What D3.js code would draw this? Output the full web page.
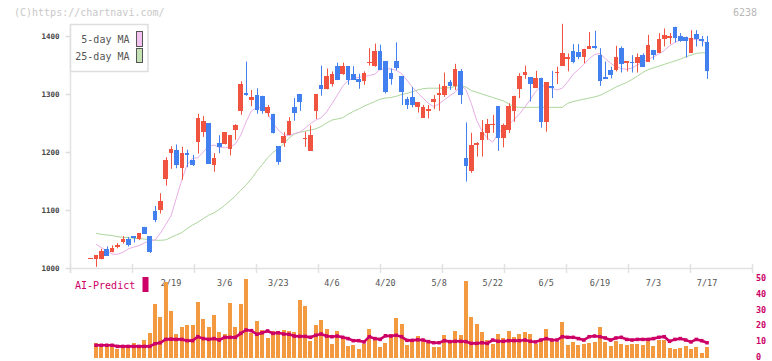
<!DOCTYPE html>
<html>
<head>
<meta charset="utf-8">
<script src="https://cdn.jsdelivr.net/npm/d3@7"></script>
<style>
  body { margin: 0; background: #fff; }
  svg text { font-family: "DejaVu Sans Mono", "Liberation Mono", monospace; }
</style>
</head>
<body>
<svg id="chart" width="772" height="361"></svg>
<script>
// daily candles; first slot is a flat day with no volume
var open = [1017,
  1015,1016,1032,1028,1037,1044,1050,1055,1050,1071,
  1055,1098,1100,1154,1199,1203,1173,1198,1186,1218,
  1235,1250,1178,1216,1214,1205,1238,1270,1302,1289,
  1298,1297,1268,1266,1210,1216,1230,1278,1300,1222,
  1202,1271,1316,1309,1317,1349,1335,1348,1335,1326,
  1323,1353,1348,1374,1357,1337,1357,1331,1292,1295,
  1278,1259,1270,1287,1299,1298,1320,1313,1340,1189,
  1167,1212,1220,1233,1247,1279,1225,1238,1271,1309,
  1333,1329,1310,1328,1252,1314,1336,1349,1361,1374,
  1372,1363,1378,1383,1367,1329,1341,1341,1380,1353,
  1356,1353,1367,1356,1376,1371,1394,1397,1416,1400,
  1399,1371,1403,1395,1390];
var high = [1017,
  1022,1033,1037,1039,1043,1055,1053,1055,1060,1071,
  1055,1107,1129,1191,1210,1213,1209,1204,1195,1266,
  1262,1250,1198,1229,1234,1229,1248,1322,1356,1307,
  1310,1297,1281,1266,1210,1234,1260,1293,1300,1235,
  1246,1300,1349,1344,1339,1354,1354,1348,1348,1335,
  1339,1379,1387,1385,1357,1344,1389,1331,1295,1312,
  1286,1281,1281,1298,1317,1337,1324,1352,1343,1251,
  1233,1217,1255,1257,1264,1279,1249,1284,1297,1336,
  1349,1329,1340,1328,1320,1340,1347,1421,1370,1386,
  1386,1378,1407,1409,1379,1356,1347,1383,1382,1357,
  1367,1370,1370,1402,1376,1405,1413,1405,1416,1405,
  1399,1410,1410,1400,1400];
var low = [1017,
  1002,1015,1021,1027,1034,1042,1037,1044,1048,1059,
  1026,1079,1094,1142,1171,1172,1152,1174,1176,1197,
  1226,1180,1166,1198,1213,1194,1221,1264,1297,1279,
  1266,1266,1261,1232,1178,1209,1230,1254,1271,1209,
  1202,1257,1297,1308,1313,1324,1333,1316,1324,1309,
  1316,1349,1347,1341,1301,1316,1341,1281,1274,1277,
  1268,1259,1258,1274,1271,1295,1307,1307,1283,1149,
  1164,1192,1192,1221,1233,1202,1208,1233,1252,1293,
  1326,1287,1310,1242,1235,1293,1317,1349,1339,1353,
  1360,1353,1378,1377,1314,1326,1327,1339,1337,1339,
  1337,1337,1347,1356,1359,1371,1382,1386,1389,1390,
  1363,1371,1382,1382,1326];
var close = [1017,
  1022,1030,1021,1034,1039,1050,1040,1051,1060,1059,
  1028,1083,1116,1187,1206,1178,1198,1194,1178,1259,
  1253,1180,1190,1208,1234,1229,1246,1318,1299,1294,
  1272,1271,1277,1232,1182,1228,1253,1268,1287,1225,
  1230,1300,1309,1331,1335,1324,1348,1324,1324,1321,
  1337,1355,1374,1341,1303,1326,1344,1304,1281,1281,
  1286,1277,1275,1291,1301,1314,1313,1343,1298,1176,
  1212,1216,1235,1248,1248,1225,1246,1279,1297,1331,
  1338,1318,1328,1252,1320,1311,1338,1371,1363,1355,
  1363,1378,1382,1380,1323,1326,1333,1364,1352,1357,
  1353,1364,1347,1385,1367,1395,1402,1400,1397,1392,
  1392,1396,1395,1392,1339];

var ma5 = [null,
  1041,1035,1030,1024,1023.6,1027,1033,1036,1038.5,1043,
  1047.5,1048,1060,1075,1090,1121,1152,1178,1189,1190,
  1200,1210,1212,1208,1208,1208,1214,1229,1252,1271,
  1277,1276,1267,1250,1238,1230,1228,1232,1234,1241,
  1249,1255,1259,1269,1283,1298,1313,1323,1327,1328.5,
  1330,1332,1334,1342.5,1344,1343,1341,1335,1324,1312,
  1302,1293,1284,1278,1283,1290,1297,1303,1315,1308,
  1284,1255,1236,1224,1217,1232,1241,1247,1256,1266,
  1277,1290,1304,1313,1315,1310,1307,1310,1321,1334,
  1342,1351,1361,1368,1370,1361,1353,1347,1344,1342.5,
  1345,1350,1355,1360,1364,1369,1375,1383,1389,1393,
  1395.5,1395,1394,1392,1386];
var ma25 = [null,
  1060,1058,1057,1056,1054,1053,1052.5,1051,1050.5,1050,
  1048.5,1048,1047.7,1048.5,1053,1057,1061,1068,1074,1079,
  1085,1091,1095,1101,1108,1116,1124,1134,1143,1154,
  1167,1178,1190,1199,1206,1214,1224,1231,1234,1236,
  1238,1240,1244,1250,1255,1257,1259,1265,1270,1274,
  1279,1283,1287,1291,1293,1294,1296,1299,1301,1304,
  1307,1309,1310,1310,1310,1310,1311,1313,1315,1312,
  1306,1303,1300,1297,1294,1291,1288,1283,1278,1277,
  1277,1277,1277,1277,1277,1277,1277,1277,1284,1287,
  1289,1291,1293,1295,1297.5,1302,1307,1312,1316,1320,
  1325,1331,1337,1342,1345,1348,1351,1354,1357,1360,
  1364,1367,1370,1371,1371];

var volume = [null,
  9.4,8.1,8.1,8.1,5.9,7.6,7.6,9.4,8.1,11.3,
  15.7,34.1,26,47.8,29.8,15.2,19.7,20.5,21,35.3,
  24.6,19.2,27.2,16.2,15.4,34.8,19.7,34.1,49.9,15.5,
  23.3,17.6,12.8,16.8,16.8,17.6,16.8,16.4,36.5,32.8,
  11,21,23.9,18.3,8.8,16.8,13,7.7,8.1,5.7,
  8.6,18.2,13.4,7,9.2,15,25.3,21.4,8,12.2,
  13.7,9.8,9.2,6.9,6.9,14.4,9.8,17,14.5,48.4,
  25.8,21.4,16.4,11.3,8.8,15,12.8,17,13.2,15,
  16.2,15.1,9,11.5,18.2,10.5,10.3,22.6,7.9,10.1,
  7.9,8.8,9.6,10.1,19.6,10.1,7.5,10.5,8.8,8.2,
  8.8,8.8,8.2,11.1,7.5,11.3,11.3,6.3,5.7,6.3,
  7.5,5.7,6.7,3.1,6.9];
var aiPredict = [null,
  8,8,8,8,7.3,7.3,7.3,7.3,7.3,7.3,
  7.3,9,9.6,11.7,11.9,11.7,11.7,10.9,10.9,13.4,
  12.2,11.7,12.2,11.3,13,13,13,15.5,17.6,17.2,
  14.9,15.9,17,15.5,15.9,15.1,14.9,13.8,13.6,13.6,
  13,14.3,15.1,13.8,13.4,13.8,13,12.2,10.9,10.9,
  10.1,13.4,12.2,11.7,14,13.8,14.3,13.4,11.1,11.1,
  11.5,11.3,10.3,9.6,9.6,10.9,10.3,10.5,10.5,10.3,
  9.2,9.2,9.6,9.2,11.3,10.5,10.5,10.9,10.9,10.9,
  11.3,10.5,10.1,11.3,12.2,11.3,11.3,13.4,13,13,
  12.2,11.3,13.4,13.8,13.4,12.6,11.3,12.6,13,11.7,
  11.3,11.7,11.7,11.7,12.2,13,13.4,10.5,11.7,12.2,
  11.3,10.1,11.7,10.9,9.6];

var tickLabels = ["2/19", "3/6", "3/23", "4/6", "4/20", "5/8", "5/22", "6/5", "6/19", "7/3", "7/17"];
var tickIndex = [15, 25, 35, 45, 55, 65, 75, 85, 95, 105, 115];
var priceTicks = [1000, 1100, 1200, 1300, 1400];
var volTicks = [0, 10, 20, 30, 40, 50];

var UP = "#f05440", DOWN = "#4280f0", AI = "#cc0066";

var svg = d3.select("#chart");
var n = open.length;

var x = d3.scaleBand().domain(d3.range(n)).range([88, 88 + n * 5.36]);
function cx(i) { return x(i) + x.bandwidth() / 2; }
var y = d3.scaleLinear().domain([1000, 1400]).range([268, 36]);
var yv = d3.scaleLinear().domain([0, 50]).range([358, 278.5]);
// evenly spaced frame ticks along the bottom of the price panel
var frame = d3.scaleLinear().domain([0, 11]).range([70.5, 752.5]);

// header texts
svg.append("text").attr("x", 14).attr("y", 16)
  .style("font-size", "10px").attr("fill", "#c8c8c8")
  .text("(C)https://chartnavi.com/");
svg.append("text").attr("x", 757).attr("y", 16).attr("text-anchor", "end")
  .style("font-size", "10px").attr("fill", "#b8b8b8")
  .text("6238");

// frame lines
svg.append("line").attr("x1", 70.5).attr("x2", 752.5).attr("y1", 268.5).attr("y2", 268.5)
  .attr("stroke", "#e2e2e2").attr("stroke-width", 1.5);
svg.append("line").attr("x1", 70.5).attr("x2", 70.5).attr("y1", 24).attr("y2", 273)
  .attr("stroke", "#e2e2e2").attr("stroke-width", 1.5);
svg.selectAll("line.fr").data(d3.range(12)).enter().append("line")
  .attr("class", "fr")
  .attr("x1", function(d) { return frame(d); }).attr("x2", function(d) { return frame(d); })
  .attr("y1", 264).attr("y2", 273)
  .attr("stroke", "#e2e2e2").attr("stroke-width", 1.5);

// price axis
var yAxis = svg.append("g").attr("transform", "translate(70.5,0)")
  .call(d3.axisLeft(y).tickValues(priceTicks).tickFormat(d3.format("d")).tickSize(5).tickPadding(6));
yAxis.select(".domain").remove();
yAxis.selectAll("line").attr("stroke", "#dcdcdc").attr("stroke-width", 1.5);
yAxis.selectAll("text").attr("fill", "#444")
  .style("font-size", "7.5px").style("font-weight", "bold")
  .style("font-family", "'DejaVu Sans Mono', monospace");

// moving averages
var line = d3.line()
  .defined(function(d) { return d != null; })
  .x(function(d, i) { return cx(i); })
  .y(function(d) { return y(d); });
svg.append("path").datum(ma25).attr("d", line)
  .attr("fill", "none").attr("stroke", "#acd69c").attr("stroke-width", 1);
svg.append("path").datum(ma5).attr("d", line)
  .attr("fill", "none").attr("stroke", "#e8aee6").attr("stroke-width", 1);

// candles
var idx = d3.range(n);
var candle = svg.append("g").selectAll("g").data(idx).enter().append("g");
candle.append("line")
  .attr("x1", function(i) { return Math.round(cx(i)) + 0.5; })
  .attr("x2", function(i) { return Math.round(cx(i)) + 0.5; })
  .attr("y1", function(i) { return y(high[i]); })
  .attr("y2", function(i) { return y(low[i]); })
  .attr("stroke", function(i) { return close[i] < open[i] ? DOWN : UP; })
  .attr("stroke-width", 1);
candle.append("rect")
  .attr("x", function(i) { return cx(i) - 2.3; })
  .attr("width", 4.6)
  .attr("y", function(i) { return y(Math.max(open[i], close[i])); })
  .attr("height", function(i) { return Math.max(1, Math.abs(y(open[i]) - y(close[i]))); })
  .attr("fill", function(i) { return close[i] < open[i] ? DOWN : UP; })
  .attr("shape-rendering", "crispEdges");

// legend
var lg = svg.append("g");
lg.append("rect").attr("x", 70.5).attr("y", 24.5).attr("width", 77.5).attr("height", 47)
  .attr("fill", "#fff").attr("stroke", "#dedede").attr("stroke-width", 1.5);
lg.append("text").attr("x", 129.5).attr("y", 42.5).attr("text-anchor", "end")
  .style("font-size", "10px").attr("fill", "#555").text("5-day MA");
lg.append("text").attr("x", 129.5).attr("y", 59.5).attr("text-anchor", "end")
  .style("font-size", "10px").attr("fill", "#555").text("25-day MA");
lg.append("rect").attr("x", 136.5).attr("y", 31.5).attr("width", 6).attr("height", 15)
  .attr("fill", "#f2c2f0").attr("stroke", "#555");
lg.append("rect").attr("x", 136.5).attr("y", 48.5).attr("width", 6).attr("height", 14)
  .attr("fill", "#c4e2b4").attr("stroke", "#555");

// date labels
svg.selectAll("text.date").data(tickLabels).enter().append("text")
  .attr("class", "date")
  .attr("x", function(d, i) { return cx(tickIndex[i]); })
  .attr("y", 286)
  .attr("text-anchor", "middle")
  .style("font-size", "8.5px").attr("fill", "#555")
  .text(function(d) { return d; });

// volume bars
svg.append("g").selectAll("rect").data(idx.filter(function(i) { return volume[i] != null; }))
  .enter().append("rect")
  .attr("x", function(i) { return cx(i) - 2; })
  .attr("width", 4)
  .attr("y", function(i) { return yv(volume[i]); })
  .attr("height", function(i) { return yv(0) - yv(volume[i]); })
  .attr("fill", "#f39a40")
  .attr("shape-rendering", "crispEdges");

// AI-Predict line
var aiLine = d3.line()
  .defined(function(d) { return d != null; })
  .x(function(d, i) { return cx(i); })
  .y(function(d) { return yv(d); });
svg.append("path").datum(aiPredict).attr("d", aiLine)
  .attr("fill", "none").attr("stroke", AI).attr("stroke-width", 2.6);
svg.append("g").selectAll("rect").data(idx.filter(function(i) { return aiPredict[i] != null; }))
  .enter().append("rect")
  .attr("x", function(i) { return cx(i) - 1.75; })
  .attr("y", function(i) { return yv(aiPredict[i]) - 1.75; })
  .attr("width", 3.5).attr("height", 3.5)
  .attr("fill", AI);

svg.append("text").attr("x", 75).attr("y", 289)
  .style("font-size", "10px").attr("fill", AI).text("AI-Predict");
svg.append("rect").attr("x", 142.5).attr("y", 277).attr("width", 6).attr("height", 15)
  .attr("fill", AI);

// volume axis on the right
var vAxis = svg.append("g").attr("transform", "translate(756,0)")
  .call(d3.axisRight(yv).tickValues(volTicks).tickSize(0).tickPadding(0));
vAxis.select(".domain").remove();
vAxis.selectAll("text").attr("fill", AI)
  .attr("dy", "0.2em")
  .style("font-size", "8.5px").style("font-weight", "bold")
  .style("font-family", "'DejaVu Sans Mono', monospace");
</script>
</body>
</html>
